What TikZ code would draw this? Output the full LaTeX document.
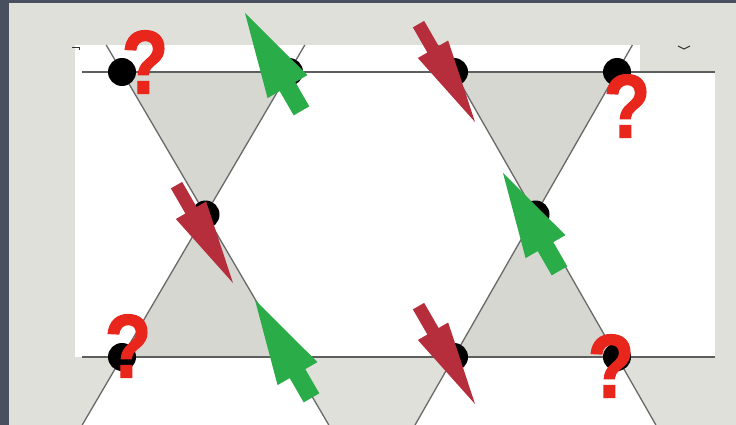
\documentclass[tikz,border=0pt]{standalone}
\usepackage{fontspec}
\setmainfont{Liberation Sans}
\newfontfamily\qfont[BoldFeatures={FakeBold=1.5}]{Liberation Sans}
\usepackage{graphicx}
\definecolor{bg}{RGB}{224,224,218}
\definecolor{slate}{RGB}{72,80,95}
\definecolor{trigray}{RGB}{215,215,209}
\definecolor{lattice}{RGB}{105,105,105}
\definecolor{agreen}{RGB}{42,172,72}
\definecolor{ared}{RGB}{182,46,60}
\definecolor{qred}{RGB}{232,38,28}
\tikzset{
  garrow/.pic={\fill[agreen] (0,0) -- (-85,23) -- (-85,9) -- (-113,9) -- (-113,-9) -- (-85,-9) -- (-85,-23) -- cycle;},
  rarrow/.pic={\fill[ared] (0,0) -- (-84,17.5) -- (-84,6.5) -- (-113,6.5) -- (-113,-6.5) -- (-84,-6.5) -- (-84,-17.5) -- cycle;},
  bond/.style={draw=lattice, line width=1.3pt},
  hbond/.style={draw=lattice!90!black, line width=2pt},
  site/.style={circle, fill=black, minimum size=28pt, inner sep=0pt},
  qmark/.style={font=\qfont\fontsize{90}{90}\selectfont\bfseries, text=qred, inner sep=0pt},
  tick/.style={draw=black!80, line width=1pt}
}
\begin{document}
\begin{tikzpicture}[x=1pt,y=-1pt]
\useasboundingbox (0,0) rectangle (736,425);
\fill[bg] (0,0) rectangle (736,425);
\fill[slate] (0,0) rectangle (9,425);
\fill[slate] (0,0) rectangle (736,3);
% lattice coordinates
\coordinate (A1) at (122,72);
\coordinate (A2) at (289,72);
\coordinate (A3) at (454,72);
\coordinate (A4) at (617,72);
\coordinate (M1) at (205.5,214.5);
\coordinate (M2) at (535.5,214.5);
\coordinate (B1) at (122,357);
\coordinate (B2) at (289,357);
\coordinate (B3) at (454,357);
\coordinate (B4) at (617,357);
\coordinate (L1t) at (106.2,45);
\coordinate (L1b) at (328.8,425);
\coordinate (L2t) at (304.8,45);
\coordinate (L2b) at (82.2,425);
\coordinate (L3t) at (438.6,45);
\coordinate (L3b) at (655.9,425);
\coordinate (L4t) at (632.4,45);
\coordinate (L4b) at (415,425);
\coordinate (H1l) at (82,72);
\coordinate (H1r) at (715,72);
\coordinate (H2l) at (82,357);
\coordinate (H2r) at (715,357);
% white areas
\fill[white] (75,45) rectangle (640,72);
\fill[white] (75,72) rectangle (715,357);
\fill[white] (B1) -- (B2) -- (L1b) -- (L2b) -- cycle;
\fill[white] (B3) -- (B4) -- (L3b) -- (L4b) -- cycle;
% gray triangles
\fill[trigray] (A1) -- (A2) -- (M1) -- cycle;
\fill[trigray] (B1) -- (B2) -- (M1) -- cycle;
\fill[trigray] (A3) -- (A4) -- (M2) -- cycle;
\fill[trigray] (B3) -- (B4) -- (M2) -- cycle;
% bonds
\draw[bond] (L1t) -- (L1b);
\draw[bond] (L2t) -- (L2b);
\draw[bond] (L3t) -- (L3b);
\draw[bond] (L4t) -- (L4b);
\draw[hbond] (H1l) -- (H1r);
\draw[hbond] (H2l) -- (H2r);
% small marks
\draw[tick] (72,47.5) -- (79,47.5) -- (79,50);
\draw[tick] (678,46) -- (684,49) -- (690,46);
% sites
\node[site] (s1) at (A1) {};
\node[site] (s2) at (A2) {};
\node[site] (s3) at (A3) {};
\node[site] (s4) at (A4) {};
\node[site] (s5) at (M1) {};
\node[site] (s6) at (M2) {};
\node[site] (s7) at (B1) {};
\node[site] (s8) at (B2) {};
\node[site] (s9) at (B3) {};
\node[site] (s10) at (B4) {};
% arrows
\pic[rotate=120] at (245,13) {garrow};
\pic[rotate=120] at (255,300) {garrow};
\pic[rotate=120] at (503,173) {garrow};
\pic[rotate=-60] at (475,122) {rarrow};
\pic[rotate=-60] at (233,283) {rarrow};
\pic[rotate=-60] at (475,404) {rarrow};
% question marks
\node[qmark] (q1) at (145,62) {\scalebox{0.85}[1]{?}};
\node[qmark] (q2) at (627,106) {\scalebox{0.85}[1]{?}};
\node[qmark] (q3) at (128,346) {\scalebox{0.85}[1]{?}};
\node[qmark] (q4) at (611,366) {\scalebox{0.85}[1]{?}};
\end{tikzpicture}
\end{document}
